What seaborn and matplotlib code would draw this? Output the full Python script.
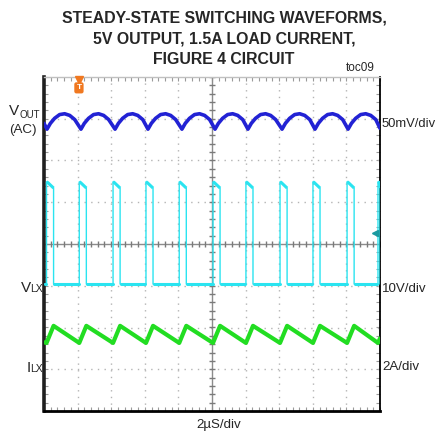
import matplotlib
matplotlib.use("Agg")
import numpy as np
import pandas as pd
import seaborn as sns
import matplotlib.pyplot as plt

# ---------------- data ----------------
# time axis in microseconds (2 us/div, 10 div); vertical in divisions (8 div)
title_lines = ["STEADY-STATE SWITCHING WAVEFORMS,",
               "5V OUTPUT, 1.5A LOAD CURRENT,",
               "FIGURE 4 CIRCUIT"]

# VOUT (AC) ripple, mV (50 mV/div)
vout_t = [0.00, 0.18,
          0.38, 0.63, 0.93, 1.23, 1.53, 1.83, 2.20,
          2.40, 2.65, 2.95, 3.25, 3.55, 3.85, 4.23,
          4.43, 4.68, 4.98, 5.28, 5.58, 5.88, 6.19,
          6.39, 6.64, 6.94, 7.24, 7.54, 7.84, 8.21,
          8.41, 8.66, 8.96, 9.26, 9.56, 9.86, 10.18,
          10.38, 10.63, 10.93, 11.23, 11.53, 11.83, 12.14,
          12.34, 12.59, 12.89, 13.19, 13.49, 13.79, 14.17,
          14.37, 14.62, 14.92, 15.22, 15.52, 15.82, 16.13,
          16.33, 16.58, 16.88, 17.18, 17.48, 17.78, 18.10,
          18.30, 18.55, 18.85, 19.15, 19.45, 19.75, 20.00]
vout_mv = [-3, -10,
           -3, 3, 7.5, 8.5, 6.5, 1.5, -10,
           -3, 3, 7.5, 8.5, 6.5, 1.5, -10,
           -3, 3, 7.5, 8.5, 6.5, 1.5, -10,
           -3, 3, 7.5, 8.5, 6.5, 1.5, -10,
           -3, 3, 7.5, 8.5, 6.5, 1.5, -10,
           -3, 3, 7.5, 8.5, 6.5, 1.5, -10,
           -3, 3, 7.5, 8.5, 6.5, 1.5, -10,
           -3, 3, 7.5, 8.5, 6.5, 1.5, -10,
           -3, 3, 7.5, 8.5, 6.5, 1.5, -10,
           -3, 3, 7.5, 8.5, 6.5, 1.5, -9]

# LX switching node, volts (10 V/div): rising / falling edge times
vlx_rise = [0.15, 2.10, 4.11, 6.07, 8.05, 10.06, 12.02, 14.05, 16.01, 18.04, 19.88]
vlx_fall = [0.57, 2.52, 4.53, 6.49, 8.47, 10.48, 12.44, 14.47, 16.43, 18.46, 20.00]
vlx_high_start = 24.5
vlx_high_end = 23.0
vlx_low = 0.0

# inductor current, amps (2 A/div): valleys at rising edges, peaks at falling edges
ilx_valley = 1.10
ilx_peak = 1.92
ilx_start = 1.13
ilx_end = 1.32

# channel offsets (div) and scales (units/div)
vout_offset, vout_scale = 2.95, 50.0
vlx_offset, vlx_scale = -0.96, 10.0
ilx_offset, ilx_scale = -2.92, 2.0

# ---------------- build traces ----------------
vlx_t, vlx_v = [0.0], [vlx_low]
low_segs = []
prev_fall = 0.0
for r, f in zip(vlx_rise, vlx_fall):
    low_segs.append((prev_fall, r))
    vlx_t += [r, r, r + 0.08, f, f]
    vlx_v += [vlx_low, vlx_high_start, vlx_high_start - 0.2, vlx_high_end, vlx_low]
    prev_fall = f

ilx_t, ilx_a = [0.0], [ilx_start]
for r, f in zip(vlx_rise, vlx_fall):
    ilx_t += [r, f]
    ilx_a += [ilx_valley, ilx_peak]
ilx_t[-1] = 20.0
ilx_a[-1] = ilx_end

df_vout = pd.DataFrame({"t": vout_t, "y": np.array(vout_mv) / vout_scale + vout_offset})
df_vlx = pd.DataFrame({"t": vlx_t, "y": np.array(vlx_v) / vlx_scale + vlx_offset})
df_ilx = pd.DataFrame({"t": ilx_t, "y": np.array(ilx_a) / ilx_scale + ilx_offset})

# ---------------- figure ----------------
sns.set_style("white")
plt.rcParams["font.family"] = ["Liberation Sans", "DejaVu Sans"]

W, H = 439, 432
fig = plt.figure(figsize=(W / 100, H / 100), dpi=100)
ax = fig.add_axes([44 / W, 1 - 411 / H, 336 / W, 334 / H])
ax.set_xlim(0, 20)
ax.set_ylim(-4, 4)

# graticule
for gx in range(2, 20, 2):
    if gx != 10:
        ax.axvline(gx, color="#b4b4b4", lw=1.0, ls=(0, (1, 3.8)), zorder=1)
for gy in range(-3, 4):
    if gy != 0:
        ax.axhline(gy, color="#b4b4b4", lw=1.0, ls=(0, (1, 3.8)), zorder=1)
ax.axvline(10, color="#8c8c8c", lw=1.0, zorder=1)
ax.axhline(0, color="#8c8c8c", lw=1.0, zorder=1)
sub_x = np.arange(0, 20.01, 0.4)
sub_y = np.arange(-4, 4.01, 0.2)
ax.plot(sub_x, np.zeros_like(sub_x), ls="none", marker="|", ms=5, mew=1, color="#7a7a7a", zorder=1)
ax.plot(np.full_like(sub_y, 10), sub_y, ls="none", marker="_", ms=5, mew=1, color="#7a7a7a", zorder=1)

ax.set_xticks(sub_x)
ax.set_yticks(sub_y)
ax.tick_params(direction="in", length=3, width=0.8, color="#9a9a9a",
               labelbottom=False, labelleft=False, top=True, right=True,
               bottom=True, left=True)
for s, (lw, c) in {"left": (2.6, "#202020"), "bottom": (2.0, "#000000"),
                   "right": (1.3, "#000000"), "top": (1.0, "#c0c0c0")}.items():
    ax.spines[s].set_linewidth(lw)
    ax.spines[s].set_color(c)

# traces
sns.lineplot(data=df_ilx, x="t", y="y", sort=False, estimator=None, color="#22dd22",
             lw=3.0, ax=ax, zorder=3, solid_joinstyle="round")
sns.lineplot(data=df_vlx, x="t", y="y", sort=False, estimator=None, color="#2ae4f0",
             lw=1.0, ax=ax, zorder=3)
for a, b in low_segs:
    if b - a > 0.05:
        ax.plot([a + 0.05, b - 0.03], [vlx_low / vlx_scale + vlx_offset] * 2,
                color="#2ae4f0", lw=2.2, zorder=3)
for r, f in zip(vlx_rise, vlx_fall):
    ax.plot([r, r + 0.08, f], [vlx_high_start / vlx_scale + vlx_offset,
                               (vlx_high_start - 0.2) / vlx_scale + vlx_offset,
                               vlx_high_end / vlx_scale + vlx_offset],
            color="#2ae4f0", lw=2.2, zorder=3, solid_capstyle="butt")
sns.lineplot(data=df_vout, x="t", y="y", sort=False, estimator=None, color="#2222d4",
             lw=2.6, ax=ax, zorder=4, solid_joinstyle="round")
ax.set_xlabel("")
ax.set_ylabel("")
ax.set_xlim(0, 20)
ax.set_ylim(-4, 4)

# markers
ax.plot([2.08], [3.93], marker="v", ms=6, color="#f07820", clip_on=False, zorder=5)
ax.text(2.08, 3.74, "T", color="white", fontsize=6, fontweight="bold", ha="center",
        va="center", zorder=6,
        bbox=dict(boxstyle="round,pad=0.25", fc="#f07820", ec="none"))
ax.plot([19.7], [0.26], marker="<", ms=5, color="#1a9aa0", zorder=5)

# text
def P(x, y):
    return x / W, 1 - y / H

ys = [18, 39, 60]
for line, y in zip(title_lines, ys):
    fig.text(*P(224, y), line, ha="center", va="center", fontsize=11.4, fontweight="bold")
fig.text(*P(360, 71), "toc09", ha="center", va="baseline", fontsize=8.5)

LBL = 9.6
fig.text(*P(9, 115), "V", ha="left", va="baseline", fontsize=11)
fig.text(*P(19.5, 118), "OUT", ha="left", va="baseline", fontsize=7)
fig.text(*P(23, 133), "(AC)", ha="center", va="baseline", fontsize=LBL)
fig.text(*P(21, 292), "V", ha="left", va="baseline", fontsize=11)
fig.text(*P(30.5, 292), "LX", ha="left", va="baseline", fontsize=7.5)
fig.text(*P(27, 372), "I", ha="left", va="baseline", fontsize=11)
fig.text(*P(30.5, 372), "LX", ha="left", va="baseline", fontsize=7.5)

fig.text(*P(382, 127), "50mV/div", ha="left", va="baseline", fontsize=9.4)
fig.text(*P(382, 292), "10V/div", ha="left", va="baseline", fontsize=LBL)
fig.text(*P(382, 370), "2A/div", ha="left", va="baseline", fontsize=LBL)
fig.text(*P(219, 428), "2\u00b5S/div", ha="center", va="baseline", fontsize=LBL)

fig.savefig("out.png", dpi=100)
